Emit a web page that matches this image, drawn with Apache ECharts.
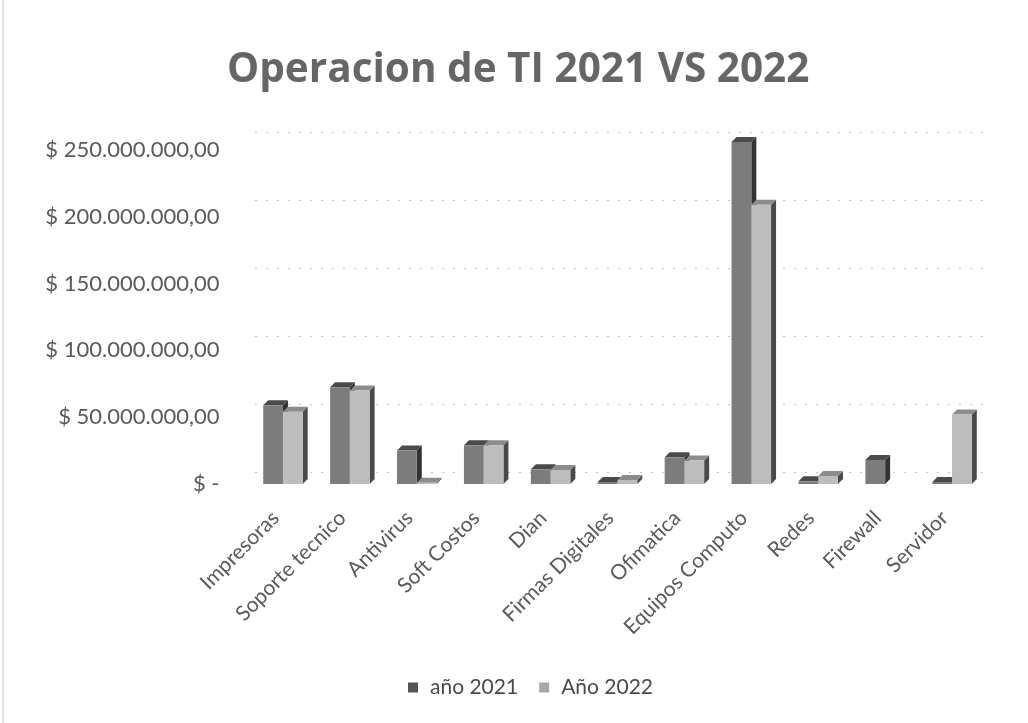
<!DOCTYPE html>
<html><head><meta charset="utf-8">
<style>html,body{margin:0;padding:0;background:#fff}#c{width:1028px;height:723px}</style>
<script src="https://cdn.jsdelivr.net/npm/echarts@6/dist/echarts.min.js"></script>
</head><body><div id="c"></div>
<script>
const categories = ['Impresoras','Soporte tecnico','Antivirus','Soft Costos','Dian','Firmas Digitales','Ofimatica','Equipos Computo','Redes','Firewall','Servidor'];
const year2021 = [59000000,72500000,25000000,29000000,11000000,1500000,20000000,256000000,2000000,18000000,1500000];
const year2022 = [54000000,70000000,1000000,29000000,10500000,3000000,17500000,209000000,6000000,0,52000000];
const tickLabels = ['$ -','$ 50.000.000,00','$ 100.000.000,00','$ 150.000.000,00','$ 200.000.000,00','$ 250.000.000,00'];
const FONT = 'Lato, "Open Sans", sans-serif';
const DEPTH = 5;

function bars(side, front, sideCol, top) {
  return function (params, api) {
    const v = api.value(1);
    if (!v) return null;
    const base = api.coord([api.value(0), 0]);
    const tip = api.coord([api.value(0), v]);
    const w = api.size([1, 0])[0] * 0.295;
    const x0 = side === 0 ? base[0] - w : base[0];
    const x1 = x0 + w, y0 = tip[1], y1 = base[1];
    return { type: 'group', children: [
      { type: 'polygon', shape: { points: [[x1,y0],[x1+DEPTH,y0-DEPTH],[x1+DEPTH,y1-DEPTH],[x1,y1]] }, style: { fill: sideCol } },
      { type: 'polygon', shape: { points: [[x0,y0],[x0+DEPTH,y0-DEPTH],[x1+DEPTH,y0-DEPTH],[x1,y0]] }, style: { fill: top } },
      { type: 'rect', shape: { x: x0, y: y0, width: w, height: y1 - y0 }, style: { fill: front } }
    ]};
  };
}

const chart = echarts.init(document.getElementById('c'), null, { renderer: 'canvas' });
chart.setOption({
  animation: false,
  backgroundColor: '#ffffff',
  title: { text: 'Operacion de TI 2021 VS 2022', left: 222, top: 45,
    textStyle: { fontFamily: 'Open Sans, sans-serif', fontWeight: 'bold', fontSize: 40.5, color: '#666666' } },
  legend: { top: 672, left: 403, itemWidth: 10, itemHeight: 10, itemGap: 21,
    textStyle: { fontFamily: FONT, fontSize: 21, color: '#4a4a4a', padding: [0, 0, 0, 7] },
    data: [ { name: 'año 2021', icon: 'rect' }, { name: 'Año 2022', icon: 'rect' } ] },
  grid: [
    { left: 249.5, width: 736, top: 150, height: 334 },
    { left: 255, width: 736, top: 132, height: 340 }
  ],
  xAxis: [
    { type: 'category', gridIndex: 0, data: categories,
      axisLine: { show: false }, axisTick: { show: false },
      axisLabel: { rotate: 45, interval: 0, margin: 38, verticalAlign: 'bottom', fontFamily: FONT, fontSize: 21, color: '#5a5a5a' } },
    { type: 'category', gridIndex: 1, data: categories, show: false }
  ],
  yAxis: [
    { type: 'value', gridIndex: 0, min: 0, max: 250000000, interval: 50000000,
      axisLine: { show: false }, axisTick: { show: false }, splitLine: { show: false },
      axisLabel: { margin: 30, fontFamily: FONT, fontSize: 22, color: '#5a5a5a', padding: [4, 0, 0, 0],
        formatter: v => tickLabels[Math.round(v / 50000000)] } },
    { type: 'value', gridIndex: 1, min: 0, max: 250000000, interval: 50000000,
      axisLine: { show: false }, axisTick: { show: false }, axisLabel: { show: false },
      splitLine: { show: true, lineStyle: { color: '#c4c4c4', width: 1, type: [2, 9] } } }
  ],
  series: [
    { name: 'año 2021', type: 'custom', xAxisIndex: 0, yAxisIndex: 0, z: 3,
      itemStyle: { color: '#555555' },
      encode: { x: 0, y: 1 },
      data: year2021.map((v, i) => [i, v]),
      renderItem: bars(0, '#7c7c7c', '#333333', '#4a4a4a') },
    { name: 'Año 2022', type: 'custom', xAxisIndex: 0, yAxisIndex: 0, z: 4,
      itemStyle: { color: '#a8a8a8' },
      encode: { x: 0, y: 1 },
      data: year2022.map((v, i) => [i, v]),
      renderItem: bars(1, '#bdbdbd', '#4a4a4a', '#8c8c8c') }
  ],
  graphic: [ { type: 'line', shape: { x1: 3, y1: 0, x2: 3, y2: 723 }, style: { stroke: '#c8c8c8', lineWidth: 1 } } ]
});
</script></body></html>
